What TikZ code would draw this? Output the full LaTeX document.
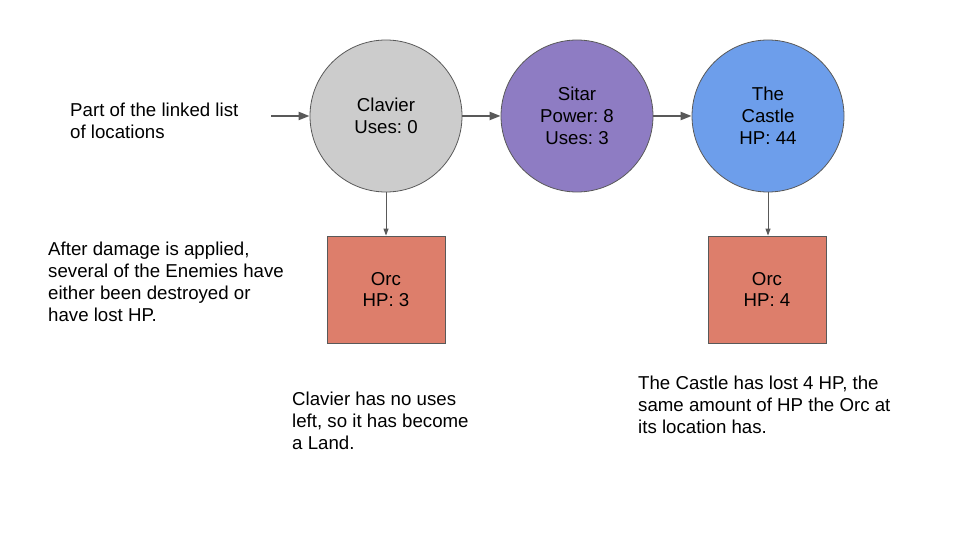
\documentclass[tikz,border=0pt]{standalone}
\usepackage{fontspec}
\setmainfont{Liberation Sans}
\frenchspacing
\usetikzlibrary{arrows.meta}
\definecolor{edgegray}{HTML}{595959}
\definecolor{claviergray}{HTML}{CCCCCC}
\definecolor{sitarpurple}{HTML}{8E7CC3}
\definecolor{castleblue}{HTML}{6D9EEB}
\definecolor{orcred}{HTML}{DD7E6B}
\tikzset{
  txt/.style={font=\fontsize{18.67}{21.8}\selectfont\frenchspacing, text=black},
  loc/.style={circle, draw=edgegray, line width=0.8pt, minimum size=152pt, inner sep=0pt, align=center, txt},
  orcbox/.style={rectangle, draw=edgegray, line width=0.8pt, fill=orcred, minimum width=118pt, minimum height=107pt, inner sep=0pt, align=center, txt},
  note/.style={anchor=north west, inner sep=0pt, align=left, txt},
  harrow/.style={draw=edgegray, line width=2pt, -{Triangle[length=11pt,width=8pt]}},
  varrow/.style={draw=edgegray, line width=1pt, -{Triangle[length=7pt,width=5pt]}},
}
\begin{document}
\begin{tikzpicture}[x=1pt,y=-1pt]
\useasboundingbox (0,0) rectangle (960,540);
\node[loc, fill=claviergray] (clavier) at (386,116) {Clavier\\Uses: 0};
\node[loc, fill=sitarpurple] (sitar) at (577,116) {Sitar\\Power: 8\\Uses: 3};
\node[loc, fill=castleblue] (castle) at (768,116) {The\\Castle\\HP: 44};
\node[orcbox] (orc1) at (386,289.5) {Orc\\HP: 3};
\node[orcbox] (orc2) at (767,289.5) {Orc\\HP: 4};
\coordinate (start) at (271,116);
\draw[harrow] (start) -- (clavier.west);
\draw[harrow] (clavier.east) -- (sitar.west);
\draw[harrow] (sitar.east) -- (castle.west);
\draw[varrow] (clavier.south) -- (orc1.north);
\draw[varrow] (castle.south) -- (castle.south |- orc2.north);
\node[note] (n1) at (70,103) {Part of the linked list\\of locations};
\node[note] (n2) at (48,242) {After damage is applied,\\several of the Enemies have\\either been destroyed or\\have lost HP.};
\node[note] (n3) at (292,392) {Clavier has no uses\\left, so it has become\\a Land.};
\node[note] (n4) at (638,376) {The Castle has lost 4 HP, the\\same amount of HP the Orc at\\its location has.};
\end{tikzpicture}
\end{document}
